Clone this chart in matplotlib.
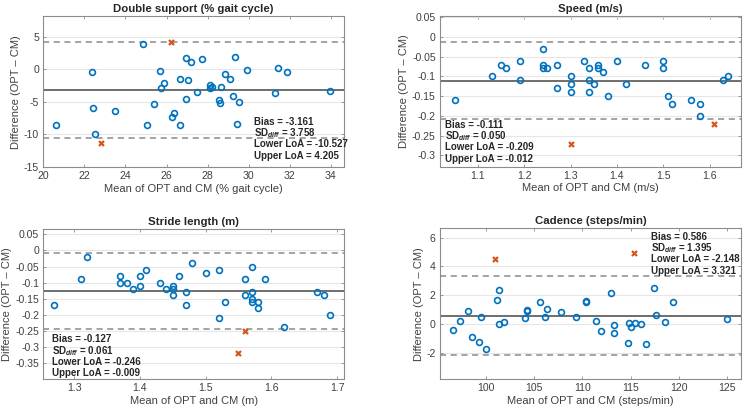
import numpy as np
import matplotlib
matplotlib.use("Agg")
import matplotlib.pyplot as plt
from matplotlib.ticker import FuncFormatter, FixedLocator

plt.rcParams['font.family'] = ['Liberation Sans', 'DejaVu Sans']
plt.rcParams['axes.unicode_minus'] = False
plt.rcParams['mathtext.fontset'] = 'custom'
plt.rcParams['mathtext.rm'] = 'Liberation Sans:bold'
plt.rcParams['mathtext.it'] = 'Liberation Sans:italic:bold'
plt.rcParams['mathtext.bf'] = 'Liberation Sans:bold'

# ---------------- Data ----------------
ds_mean = [20.6, 22.38, 22.4, 22.5, 23.47, 24.85, 25.07, 25.4, 25.68, 25.74, 25.89, 26.25,
           26.38, 26.64, 26.66, 26.95, 26.97, 27.03, 27.19, 27.46, 27.72, 28.12, 28.14, 28.2,
           28.56, 28.6, 28.65, 28.83, 29.09, 29.22, 29.32, 29.41, 29.51, 29.93, 31.29, 31.42,
           31.86, 33.98]
ds_diff = [-8.49, -0.44, -5.97, -9.87, -6.33, 3.82, -8.59, -5.26, -0.28, -2.9, -2.13, -7.36,
           -6.74, -1.51, -8.59, 1.77, -4.49, -1.62, 1.1, -3.51, 1.62, -2.44, -2.9, -2.64,
           -4.74, -5.15, -2.64, -0.74, -1.41, -4.08, 1.87, -8.38, -5.0, -0.03, -3.62, 0.18,
           -0.44, -3.36]
ds_out_mean = [22.82, 26.22]
ds_out_diff = [-11.36, 4.23]
ds_stats = [-3.161, 3.758, -10.527, 4.205]

sp_mean = [1.05, 1.13, 1.15, 1.16, 1.19, 1.19, 1.24, 1.24, 1.24, 1.25, 1.27, 1.27, 1.30,
           1.30, 1.30, 1.33, 1.34, 1.34, 1.34, 1.35, 1.36, 1.36, 1.37, 1.38, 1.40, 1.42,
           1.46, 1.50, 1.50, 1.51, 1.52, 1.56, 1.58, 1.58, 1.63, 1.64]
sp_diff = [-0.16, -0.10, -0.07, -0.08, -0.06, -0.11, -0.03, -0.07, -0.08, -0.08, -0.07, -0.13,
           -0.10, -0.12, -0.14, -0.06, -0.08, -0.11, -0.14, -0.12, -0.07, -0.08, -0.09, -0.15,
           -0.06, -0.12, -0.07, -0.06, -0.08, -0.15, -0.17, -0.16, -0.17, -0.20, -0.11, -0.10]
sp_out_mean = [1.30, 1.61]
sp_out_diff = [-0.27, -0.22]
sp_stats = [-0.111, 0.050, -0.209, -0.012]

sl_mean = [1.27, 1.31, 1.32, 1.37, 1.37, 1.38, 1.39, 1.40, 1.40, 1.41, 1.43, 1.44, 1.45,
           1.45, 1.45, 1.46, 1.47, 1.47, 1.48, 1.50, 1.52, 1.52, 1.53, 1.56, 1.56, 1.57,
           1.57, 1.57, 1.57, 1.58, 1.58, 1.59, 1.62, 1.67, 1.68, 1.69]
sl_diff = [-0.17, -0.09, -0.02, -0.08, -0.10, -0.10, -0.12, -0.08, -0.11, -0.06, -0.10, -0.12,
           -0.11, -0.12, -0.14, -0.08, -0.13, -0.17, -0.04, -0.07, -0.06, -0.21, -0.16, -0.09,
           -0.14, -0.05, -0.13, -0.15, -0.16, -0.16, -0.18, -0.09, -0.24, -0.13, -0.14, -0.20]
sl_out_mean = [1.55, 1.56]
sl_out_diff = [-0.32, -0.25]
sl_stats = [-0.127, 0.061, -0.246, -0.009]

cd_mean = [96.6, 97.3, 98.1, 98.55, 99.3, 99.45, 100.0, 101.2, 101.35, 101.38, 101.86, 104.07,
           104.25, 104.28, 105.59, 106.08, 106.32, 107.8, 109.29, 110.36, 110.39, 111.4, 111.95,
           113.02, 113.26, 113.29, 114.74, 114.88, 115.02, 115.5, 116.06, 116.64, 117.44,
           117.65, 118.61, 119.44, 125.0]
cd_diff = [-0.38, 0.22, 0.89, -0.89, -1.21, 0.47, -1.75, 1.68, 0.01, 2.37, 0.15, 0.45,
           0.89, 0.96, 1.51, 0.47, 1.03, 0.82, 0.52, 1.61, 1.54, 0.22, -0.47,
           2.16, -0.06, -0.61, -1.28, 0.10, -0.22, 0.06, 0.01, -1.4, 2.49,
           0.64, 0.13, 1.54, 0.38]
cd_out_mean = [100.97, 115.37]
cd_out_diff = [4.54, 4.91]
cd_stats = [0.586, 1.395, -2.148, 3.321]

# ---------------- Layout ----------------
W, H = 746, 412
fig = plt.figure(figsize=(W / 100, H / 100), dpi=100)

def rect(l, r, t, b):
    return [l / W, (H - b) / H, (r - l) / W, (b - t) / H]

BLUE = '#0072BD'
ORANGE = '#D95319'
TXT = '#262626'

panels = [
    dict(rect=rect(43.3, 344, 16.3, 167), title='Double support (% gait cycle)',
         xlabel='Mean of OPT and CM (% gait cycle)', m=ds_mean, d=ds_diff,
         om=ds_out_mean, od=ds_out_diff, st=ds_stats,
         xlim=(20, 34.64), ylim=(-15, 8.15), xt=np.arange(20, 35, 2), yt=[-15, -10, -5, 0, 5],
         txy=(0.70, 0.30)),
    dict(rect=rect(440, 741, 16.3, 166.5), title='Speed (m/s)',
         xlabel='Mean of OPT and CM (m/s)', m=sp_mean, d=sp_diff,
         om=sp_out_mean, od=sp_out_diff, st=sp_stats,
         xlim=(1.018, 1.668), ylim=(-0.328, 0.052), xt=[1.1, 1.2, 1.3, 1.4, 1.5, 1.6],
         yt=[-0.3, -0.25, -0.2, -0.15, -0.1, -0.05, 0, 0.05],
         txy=(0.018, 0.277)),
    dict(rect=rect(43.3, 344.3, 228.7, 379.3), title='Stride length (m)',
         xlabel='Mean of OPT and CM (m)', m=sl_mean, d=sl_diff,
         om=sl_out_mean, od=sl_out_diff, st=sl_stats,
         xlim=(1.253, 1.711), ylim=(-0.402, 0.068), xt=[1.3, 1.4, 1.5, 1.6, 1.7],
         yt=[-0.35, -0.3, -0.25, -0.2, -0.15, -0.1, -0.05, 0, 0.05],
         txy=(0.028, 0.265)),
    dict(rect=rect(440, 741, 228.3, 379.3), title='Cadence (steps/min)',
         xlabel='Mean of OPT and CM (steps/min)', m=cd_mean, d=cd_diff,
         om=cd_out_mean, od=cd_out_diff, st=cd_stats,
         xlim=(95.24, 126.45), ylim=(-3.83, 6.65), xt=[100, 105, 110, 115, 120, 125],
         yt=[-2, 0, 2, 4, 6],
         txy=(0.70, 0.944)),
]

fmt = FuncFormatter(lambda v, p: f'{v:g}')

for p in panels:
    ax = fig.add_axes(p['rect'])
    ax.set_xlim(*p['xlim'])
    ax.set_ylim(*p['ylim'])
    ax.xaxis.set_major_locator(FixedLocator(p['xt']))
    ax.yaxis.set_major_locator(FixedLocator(p['yt']))
    ax.xaxis.set_major_formatter(fmt)
    ax.yaxis.set_major_formatter(fmt)
    ax.grid(axis='y', color='#e6e6e6', linewidth=0.8, zorder=0)
    ax.set_axisbelow(True)
    bias, sd, lo, up = p['st']
    ax.axhline(bias, color='#6e6e6e', linewidth=1.4, zorder=2)
    ax.axhline(lo, color='#8a8a8a', linewidth=1.1, linestyle=(0, (4, 3)), zorder=2)
    ax.axhline(up, color='#8a8a8a', linewidth=1.1, linestyle=(0, (4, 3)), zorder=2)
    ax.plot(p['m'], p['d'], linestyle='none', marker='o', markersize=4.2,
            markerfacecolor='none', markeredgecolor=BLUE, markeredgewidth=1.2, zorder=3)
    ax.plot(p['om'], p['od'], linestyle='none', marker='x', markersize=3.6,
            color=ORANGE, markeredgewidth=1.6, zorder=3)
    ax.set_title(p['title'], fontsize=8.2, fontweight='bold', color=TXT, pad=3)
    ax.set_xlabel(p['xlabel'], fontsize=8, color='#404040', labelpad=2)
    ax.set_ylabel('Difference (OPT – CM)', fontsize=8, color='#404040', labelpad=2)
    for s in ax.spines.values():
        s.set_color('#8c8c8c')
        s.set_linewidth(0.8)
    ax.tick_params(direction='in', length=2.5, width=0.6, color='#8c8c8c',
                   labelsize=7.6, labelcolor='#404040', top=True, right=True, pad=3)
    lines = [f'Bias = {bias:.3f}',
             r'SD$_{\mathit{diff}}$ = ' + f'{sd:.3f}',
             f'Lower LoA = {lo:.3f}',
             f'Upper LoA = {up:.3f}']
    tx, ty = p['txy']
    for i, s in enumerate(lines):
        ax.text(tx, ty - i * 0.075, s, transform=ax.transAxes, fontsize=7.0,
                fontweight='bold', color=TXT, va='center', ha='left', zorder=4,
                clip_on=False)

fig.savefig('out.png', dpi=100)
